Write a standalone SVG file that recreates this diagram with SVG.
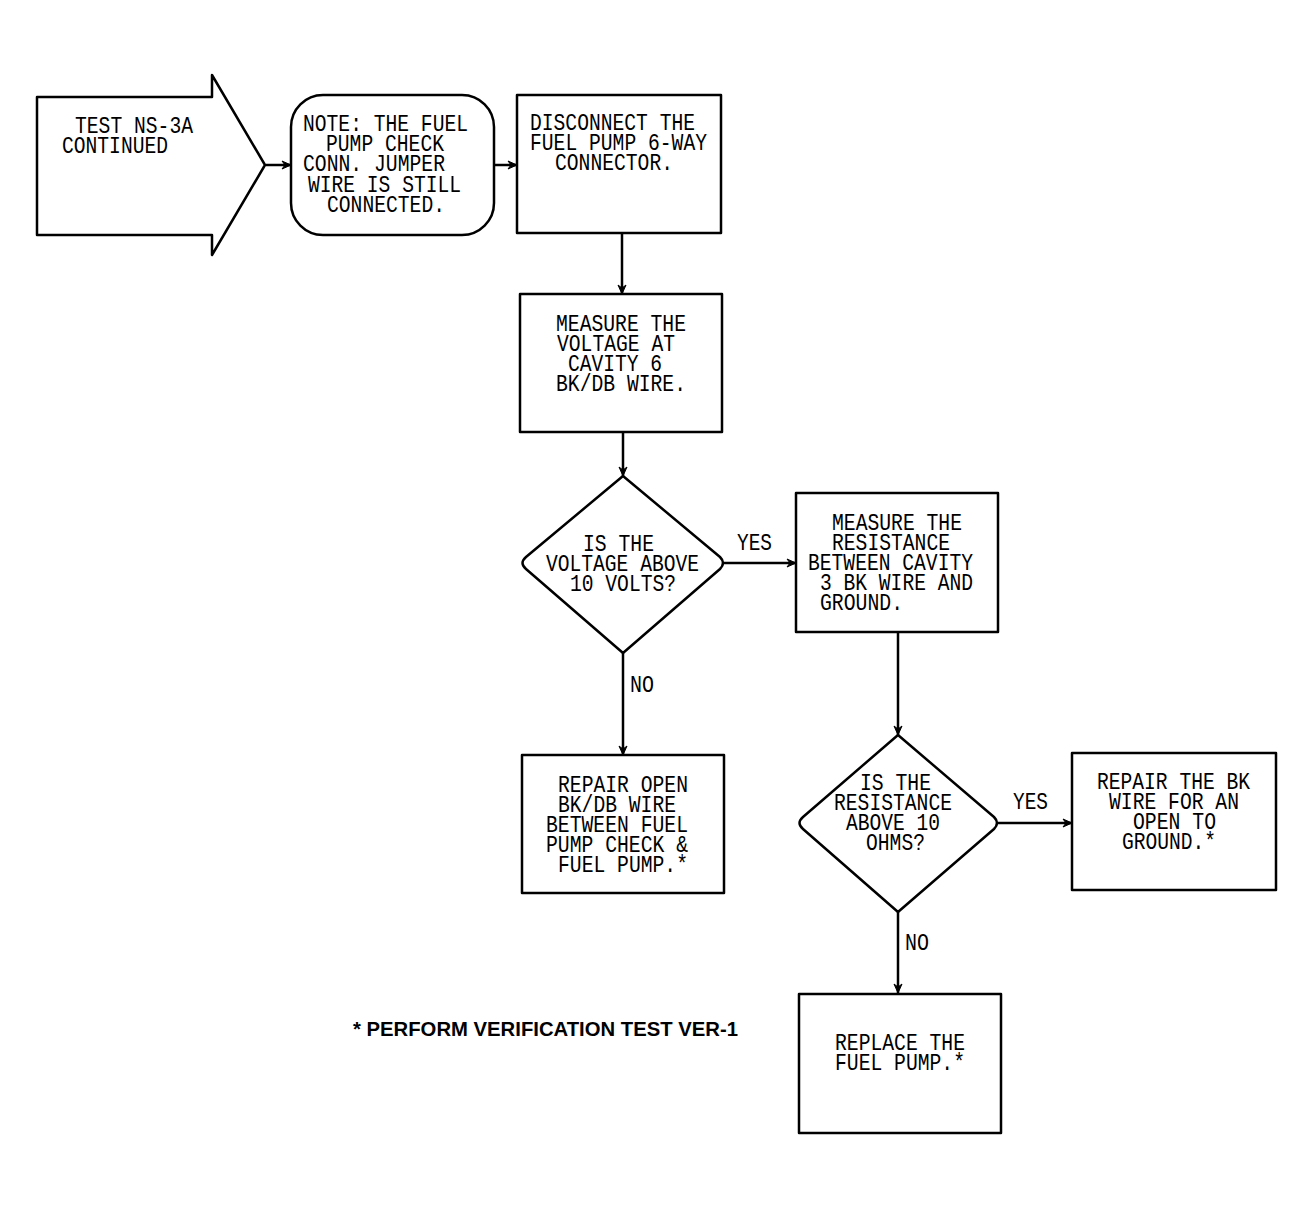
<svg xmlns="http://www.w3.org/2000/svg" width="1314" height="1210" viewBox="0 0 1314 1210">
<style>
.shape{fill:#fff;stroke:#000;stroke-width:2.5;stroke-linejoin:round}
.con{fill:none;stroke:#000;stroke-width:2.5}
.t{font-family:"Liberation Mono","DejaVu Sans Mono",monospace;font-size:23px;fill:#000}
.foot{font-family:"Liberation Sans",Arial,sans-serif;font-size:20px;font-weight:bold;fill:#000}
</style>
<defs>
<marker id="arr" markerUnits="userSpaceOnUse" markerWidth="12" markerHeight="10" refX="10" refY="5" orient="auto">
<path d="M1,1 L10,5 L1,9 L4,5 Z" fill="#000" stroke="#000" stroke-width="1"/>
</marker>
</defs>
<rect width="1314" height="1210" fill="#fff"/>

<g id="connectors">
<line class="con" x1="266" y1="165" x2="291" y2="165" marker-end="url(#arr)"/>
<line class="con" x1="494" y1="165" x2="517" y2="165" marker-end="url(#arr)"/>
<line class="con" x1="622" y1="233" x2="622" y2="294" marker-end="url(#arr)"/>
<line class="con" x1="623" y1="432" x2="623" y2="476" marker-end="url(#arr)"/>
<line class="con" x1="724" y1="563" x2="796" y2="563" marker-end="url(#arr)"/>
<line class="con" x1="623" y1="653" x2="623" y2="755" marker-end="url(#arr)"/>
<line class="con" x1="898" y1="632" x2="898" y2="735" marker-end="url(#arr)"/>
<line class="con" x1="998" y1="823" x2="1072" y2="823" marker-end="url(#arr)"/>
<line class="con" x1="898" y1="912" x2="898" y2="993" marker-end="url(#arr)"/>
<text class="t" x="737" y="550" textLength="35" lengthAdjust="spacingAndGlyphs">YES</text>
<text class="t" x="630" y="692" textLength="24" lengthAdjust="spacingAndGlyphs">NO</text>
<text class="t" x="1013" y="809" textLength="35" lengthAdjust="spacingAndGlyphs">YES</text>
<text class="t" x="905" y="950" textLength="24" lengthAdjust="spacingAndGlyphs">NO</text>
</g>

<g id="start">
<path class="shape" d="M37,97 L212,97 L212,75 L265,165 L212,255 L212,235 L37,235 Z"/>
<text class="t" x="75" y="133" textLength="118" lengthAdjust="spacingAndGlyphs">TEST NS-3A</text>
<text class="t" x="62" y="153" textLength="106" lengthAdjust="spacingAndGlyphs">CONTINUED</text>
</g>

<g id="note">
<rect class="shape" x="291" y="95" width="203" height="140" rx="32" ry="32"/>
<text class="t" x="303" y="131" textLength="165" lengthAdjust="spacingAndGlyphs">NOTE: THE FUEL</text>
<text class="t" x="326" y="151" textLength="118" lengthAdjust="spacingAndGlyphs">PUMP CHECK</text>
<text class="t" x="303" y="171" textLength="142" lengthAdjust="spacingAndGlyphs">CONN. JUMPER</text>
<text class="t" x="308" y="192" textLength="153" lengthAdjust="spacingAndGlyphs">WIRE IS STILL</text>
<text class="t" x="327" y="212" textLength="118" lengthAdjust="spacingAndGlyphs">CONNECTED.</text>
</g>

<g id="disconnect">
<rect class="shape" x="517" y="95" width="204" height="138"/>
<text class="t" x="530" y="130" textLength="165" lengthAdjust="spacingAndGlyphs">DISCONNECT THE</text>
<text class="t" x="530" y="150" textLength="177" lengthAdjust="spacingAndGlyphs">FUEL PUMP 6-WAY</text>
<text class="t" x="555" y="170" textLength="118" lengthAdjust="spacingAndGlyphs">CONNECTOR.</text>
</g>

<g id="measure-voltage">
<rect class="shape" x="520" y="294" width="202" height="138"/>
<text class="t" x="556" y="331" textLength="130" lengthAdjust="spacingAndGlyphs">MEASURE THE</text>
<text class="t" x="557" y="351" textLength="118" lengthAdjust="spacingAndGlyphs">VOLTAGE AT</text>
<text class="t" x="568" y="371" textLength="94" lengthAdjust="spacingAndGlyphs">CAVITY 6</text>
<text class="t" x="556" y="391" textLength="130" lengthAdjust="spacingAndGlyphs">BK/DB WIRE.</text>
</g>

<g id="voltage-decision">
<path class="shape" d="M623,476 L720,557 Q726,563 720,569 L623,653 L526,569 Q519,563 526,557 Z"/>
<text class="t" x="583" y="551" textLength="71" lengthAdjust="spacingAndGlyphs">IS THE</text>
<text class="t" x="546" y="571" textLength="153" lengthAdjust="spacingAndGlyphs">VOLTAGE ABOVE</text>
<text class="t" x="570" y="591" textLength="106" lengthAdjust="spacingAndGlyphs">10 VOLTS?</text>
</g>

<g id="measure-resistance">
<rect class="shape" x="796" y="493" width="202" height="139"/>
<text class="t" x="832" y="530" textLength="130" lengthAdjust="spacingAndGlyphs">MEASURE THE</text>
<text class="t" x="832" y="550" textLength="118" lengthAdjust="spacingAndGlyphs">RESISTANCE</text>
<text class="t" x="808" y="570" textLength="165" lengthAdjust="spacingAndGlyphs">BETWEEN CAVITY</text>
<text class="t" x="820" y="590" textLength="153" lengthAdjust="spacingAndGlyphs">3 BK WIRE AND</text>
<text class="t" x="820" y="610" textLength="83" lengthAdjust="spacingAndGlyphs">GROUND.</text>
</g>

<g id="repair-open">
<rect class="shape" x="522" y="755" width="202" height="138"/>
<text class="t" x="558" y="792" textLength="130" lengthAdjust="spacingAndGlyphs">REPAIR OPEN</text>
<text class="t" x="558" y="812" textLength="118" lengthAdjust="spacingAndGlyphs">BK/DB WIRE</text>
<text class="t" x="546" y="832" textLength="142" lengthAdjust="spacingAndGlyphs">BETWEEN FUEL</text>
<text class="t" x="546" y="852" textLength="142" lengthAdjust="spacingAndGlyphs">PUMP CHECK &amp;</text>
<text class="t" x="558" y="872" textLength="130" lengthAdjust="spacingAndGlyphs">FUEL PUMP.*</text>
</g>

<g id="resistance-decision">
<path class="shape" d="M898,735 L994,817 Q1000,823 994,829 L898,912 L803,829 Q796,823 803,817 Z"/>
<text class="t" x="860" y="790" textLength="71" lengthAdjust="spacingAndGlyphs">IS THE</text>
<text class="t" x="834" y="810" textLength="118" lengthAdjust="spacingAndGlyphs">RESISTANCE</text>
<text class="t" x="846" y="830" textLength="94" lengthAdjust="spacingAndGlyphs">ABOVE 10</text>
<text class="t" x="866" y="850" textLength="59" lengthAdjust="spacingAndGlyphs">OHMS?</text>
</g>

<g id="repair-bk">
<rect class="shape" x="1072" y="753" width="204" height="137"/>
<text class="t" x="1097" y="789" textLength="153" lengthAdjust="spacingAndGlyphs">REPAIR THE BK</text>
<text class="t" x="1109" y="809" textLength="130" lengthAdjust="spacingAndGlyphs">WIRE FOR AN</text>
<text class="t" x="1133" y="829" textLength="83" lengthAdjust="spacingAndGlyphs">OPEN TO</text>
<text class="t" x="1122" y="849" textLength="94" lengthAdjust="spacingAndGlyphs">GROUND.*</text>
</g>

<g id="replace-pump">
<rect class="shape" x="799" y="994" width="202" height="139"/>
<text class="t" x="835" y="1050" textLength="130" lengthAdjust="spacingAndGlyphs">REPLACE THE</text>
<text class="t" x="835" y="1070" textLength="130" lengthAdjust="spacingAndGlyphs">FUEL PUMP.*</text>
</g>

<g id="footnote">
<text class="foot" x="353" y="1036" textLength="385" lengthAdjust="spacingAndGlyphs">* PERFORM VERIFICATION TEST VER-1</text>
</g>
</svg>
